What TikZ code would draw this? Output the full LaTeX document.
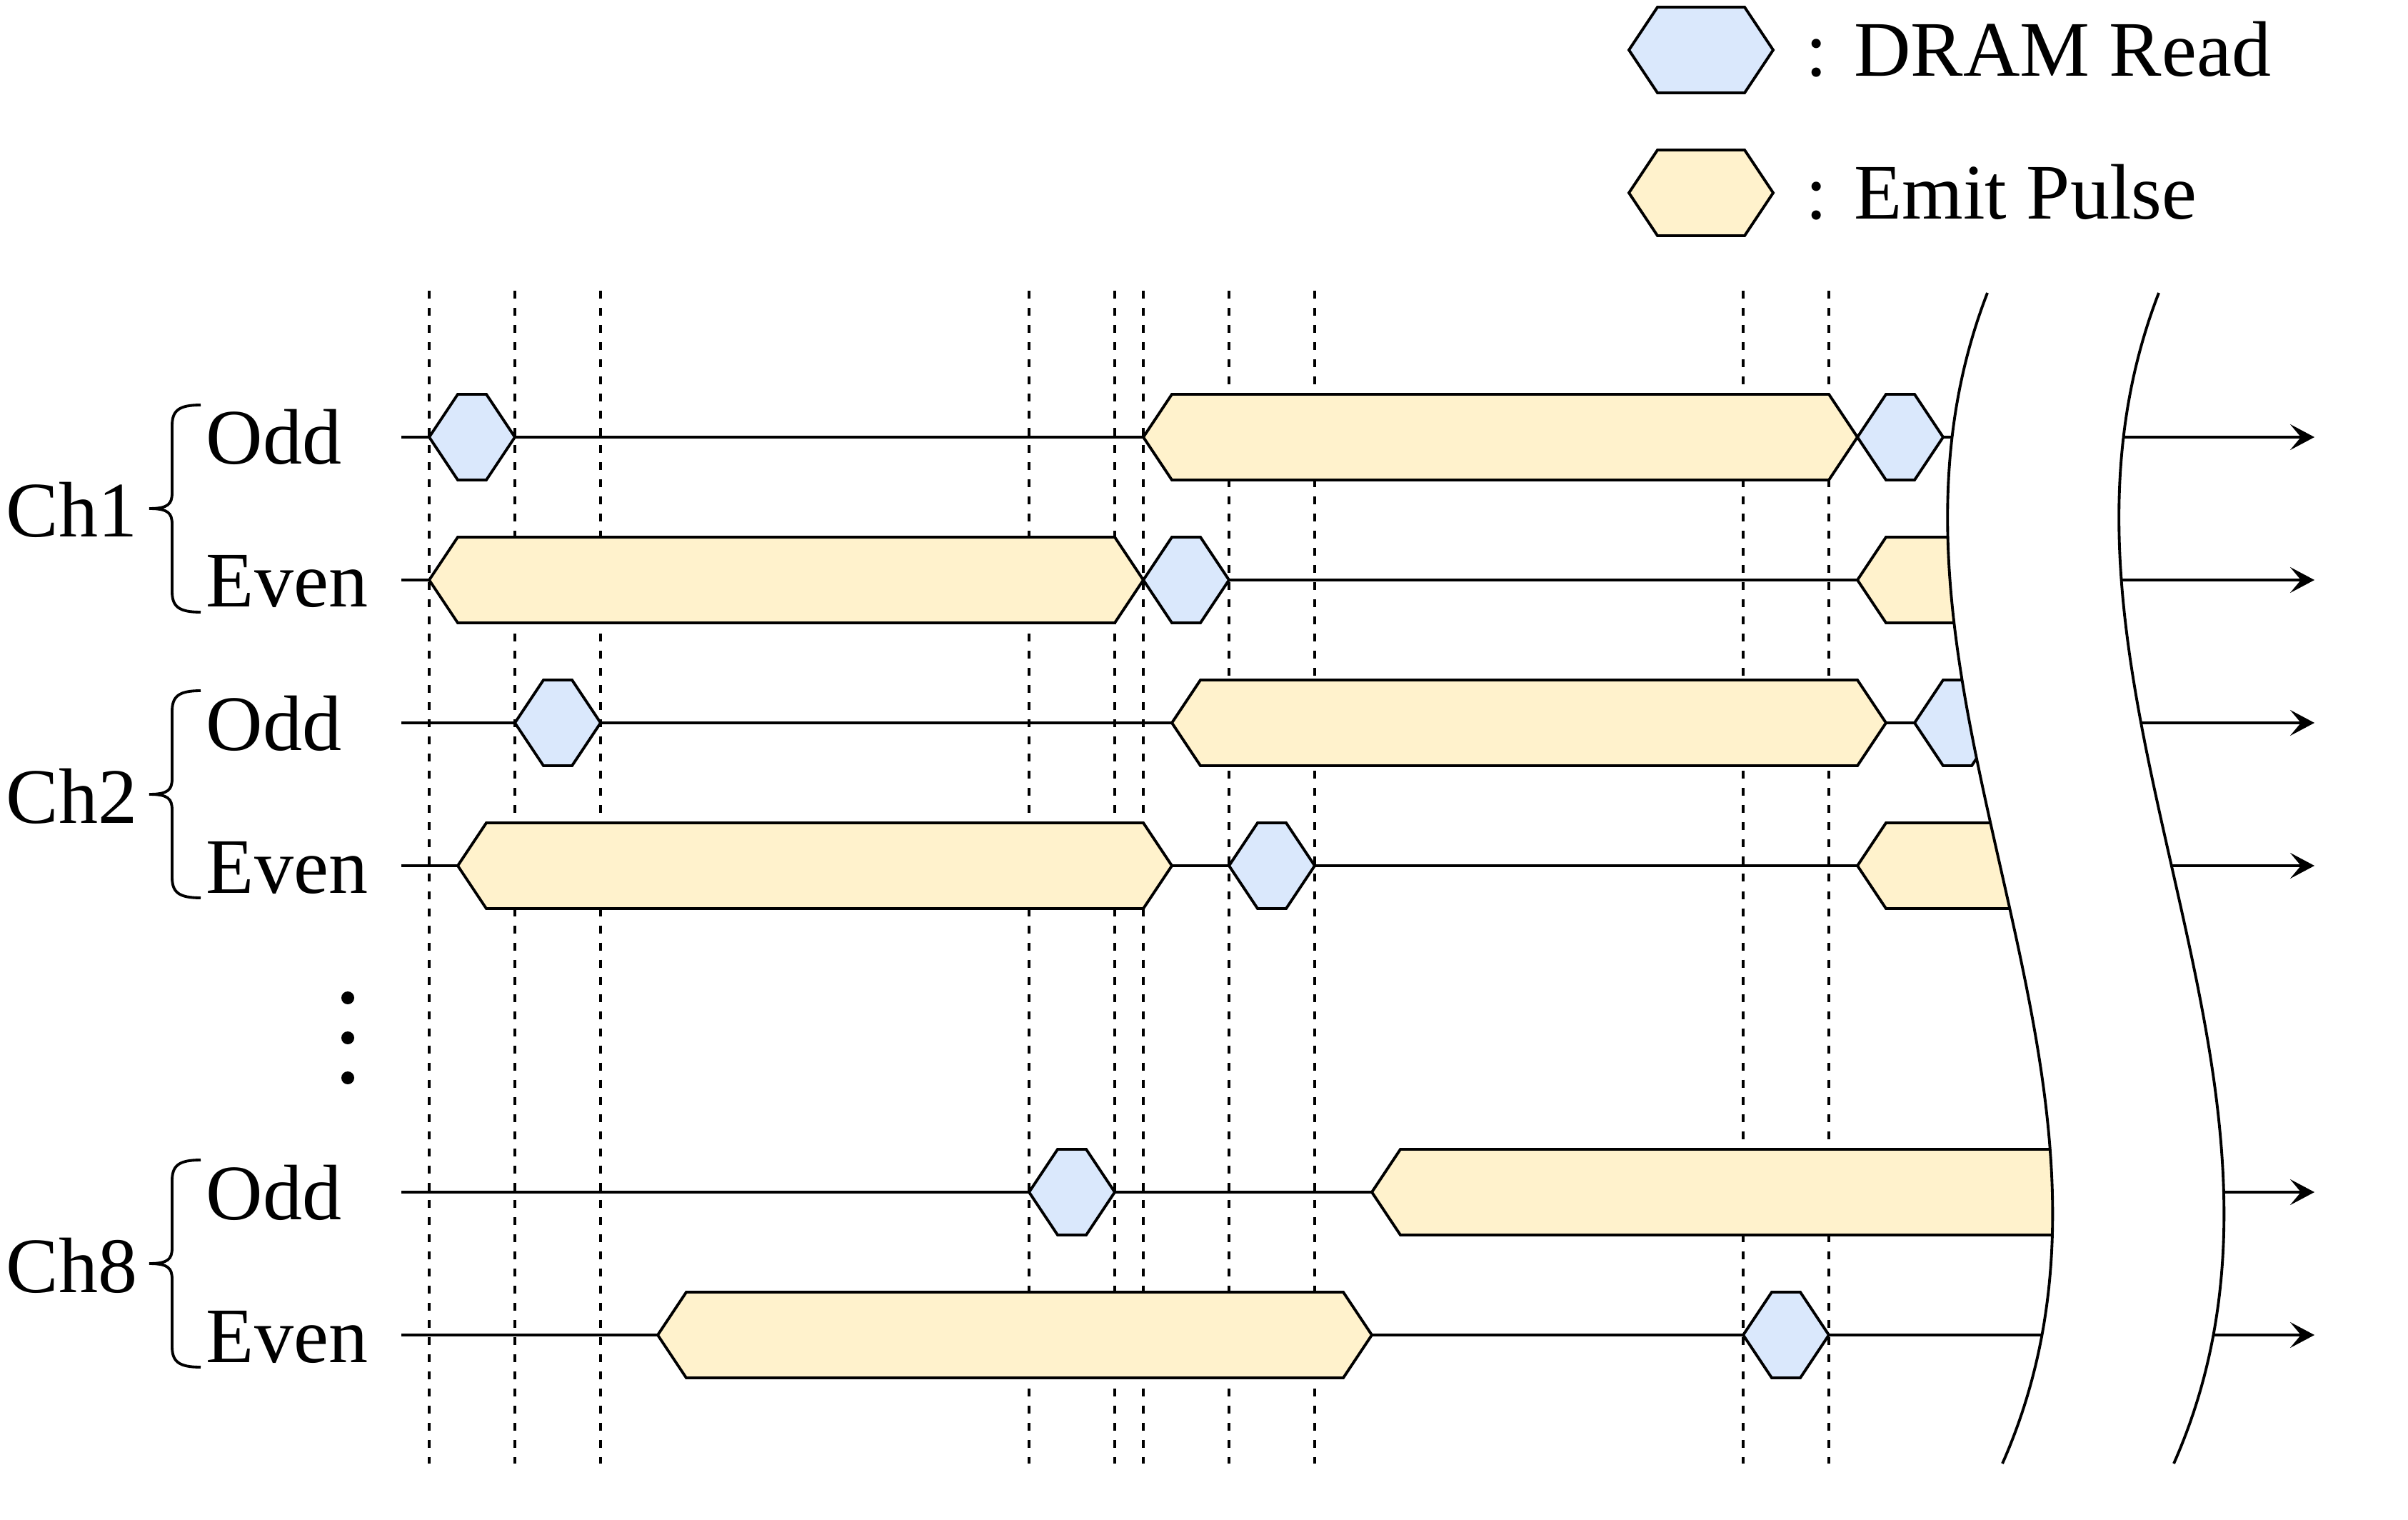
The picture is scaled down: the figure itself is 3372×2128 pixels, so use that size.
\documentclass[tikz,border=0pt]{standalone}
\usepackage{fontspec}
\setmainfont{Liberation Serif}
\usepackage{xcolor}
\usetikzlibrary{arrows.meta,positioning}
\definecolor{dramblue}{HTML}{DAE8FC}
\definecolor{pulseyellow}{HTML}{FFF2CC}

\begin{document}
\begin{tikzpicture}[
    x=0.01cm, y=-0.01cm,
    line width=1.1pt,
    txt/.style={font=\fontsize{31.3}{37}\selectfont, inner sep=0pt, anchor=base west},
    hexpath/.style={to path={-- ([shift={(40,-60)}]\tikztostart) -- ([shift={(-40,-60)}]\tikztotarget) -- (\tikztotarget) -- ([shift={(-40,60)}]\tikztotarget) -- ([shift={(40,60)}]\tikztostart) -- cycle}},
    dram/.style={draw, fill=dramblue, hexpath},
    pulse/.style={draw, fill=pulseyellow, hexpath},
    guide/.style={line width=0.95pt, dash pattern=on 0.11cm off 0.13cm},
    arrow/.style={-{Stealth[length=0.34cm, width=0.36cm, inset=0.15cm]}}
]
    \useasboundingbox (0,0) rectangle (3372,2128);

    % Legend
    \draw[dram] (2281,70) to (2483,70);
    \node[txt] (legdram) at (2527,107) {: DRAM Read};
    \draw[pulse] (2281,270) to (2483,270);
    \node[txt] (legpulse) at (2527,307) {: Emit Pulse};

    % Channel labels
    \node[txt] (ch1) at (7,752) {Ch1};
    \node[txt] (ch1odd) at (287,650) {Odd};
    \node[txt] (ch1even) at (287,850) {Even};
    \node[txt] (ch2) at (7,1152) {Ch2};
    \node[txt] (ch2odd) at (287,1050) {Odd};
    \node[txt] (ch2even) at (287,1250) {Even};
    \node[txt] (ch8) at (7,1809) {Ch8};
    \node[txt] (ch8odd) at (287,1707) {Odd};
    \node[txt] (ch8even) at (287,1907) {Even};

    % Braces
    \foreach \m in {712,1112,1769}
        \draw (281,\m-145) .. controls (250,\m-145) and (241,\m-137) .. (241,\m-116)
            -- (241,\m-22) .. controls (241,\m-6) and (235,\m) .. (209,\m)
            .. controls (235,\m) and (241,\m+6) .. (241,\m+22)
            -- (241,\m+116) .. controls (241,\m+137) and (250,\m+145) .. (281,\m+145);

    % Skipped channels
    \foreach \d in {1397,1453,1509}
        \fill (487,\d) circle (0.09cm);

    % Timelines, cut at the break
    \begin{scope}
        \clip (0,0) -- (2783,0) -- (2783,410) .. controls (2572,956) and (3045,1503) .. (2804,2049)
            -- (2804,2128) -- (0,2128) -- cycle;
        \foreach \x in {601,721,841,1441,1561,1601,1721,1841,2441,2561}
            \draw[guide] (\x,407) -- (\x,2049);
        \foreach \r in {612,812,1012,1212,1669,1869}
            \draw (562,\r) -- (3000,\r);

        % Ch1
        \draw[dram] (601,612) to (721,612);
        \draw[pulse] (1601,612) to (2601,612);
        \draw[dram] (2601,612) to (2721,612);
        \draw[pulse] (601,812) to (1601,812);
        \draw[dram] (1601,812) to (1721,812);
        \draw[pulse] (2601,812) to (3300,812);

        % Ch2
        \draw[dram] (721,1012) to (841,1012);
        \draw[pulse] (1641,1012) to (2641,1012);
        \draw[dram] (2681,1012) to (2801,1012);
        \draw[pulse] (641,1212) to (1641,1212);
        \draw[dram] (1721,1212) to (1841,1212);
        \draw[pulse] (2601,1212) to (3300,1212);

        % Ch8
        \draw[dram] (1441,1669) to (1561,1669);
        \draw[pulse] (1921,1669) to (3300,1669);
        \draw[pulse] (921,1869) to (1921,1869);
        \draw[dram] (2441,1869) to (2561,1869);
    \end{scope}

    % Outputs after the break
    \begin{scope}
        \clip (3023,0) -- (3023,410) .. controls (2812,956) and (3285,1503) .. (3044,2049)
            -- (3044,2128) -- (3372,2128) -- (3372,0) -- cycle;
        \foreach \r in {612,812,1012,1212,1669,1869}
            \draw[arrow] (2900,\r) -- (3241,\r);
    \end{scope}

    % Break
    \draw (2783,410) .. controls (2572,956) and (3045,1503) .. (2804,2049);
    \draw (3023,410) .. controls (2812,956) and (3285,1503) .. (3044,2049);
\end{tikzpicture}
\end{document}
